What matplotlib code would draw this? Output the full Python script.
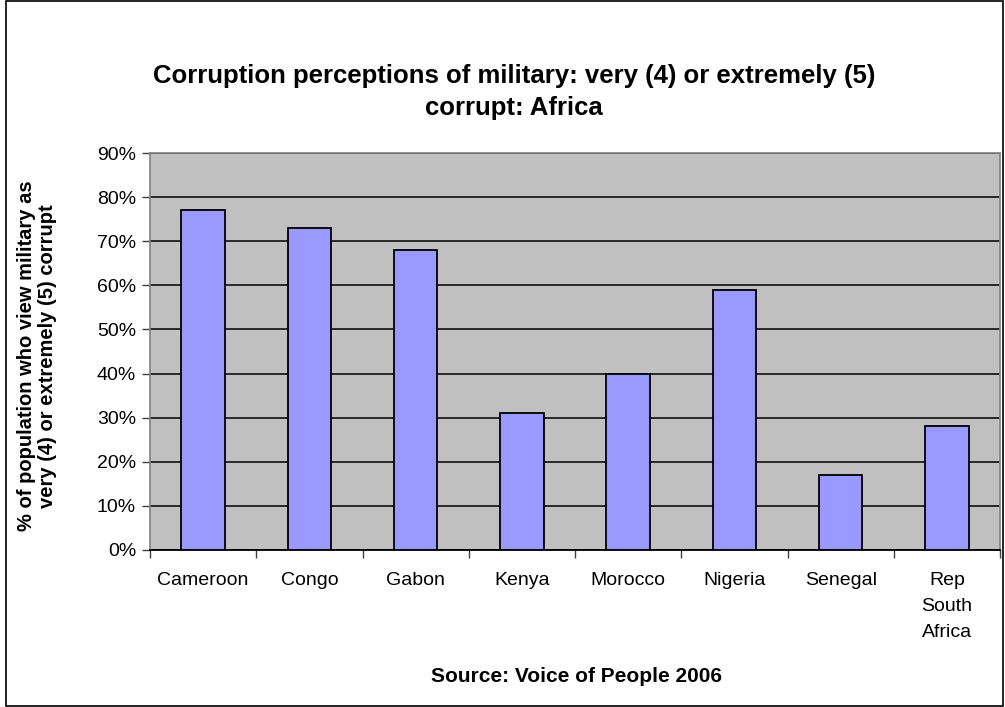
import matplotlib
matplotlib.use("Agg")
import matplotlib.pyplot as plt
from matplotlib.patches import Rectangle
from matplotlib.ticker import MultipleLocator, FuncFormatter

countries = ["Cameroon", "Congo", "Gabon", "Kenya", "Morocco", "Nigeria",
             "Senegal", "Rep\nSouth\nAfrica"]
pct_corrupt = [77, 73, 68, 31, 40, 59, 17, 28]

plt.rcParams["font.family"] = ["Liberation Sans", "DejaVu Sans"]

W, H = 1005, 707
fig = plt.figure(figsize=(W / 100, H / 100), dpi=100)
ax = fig.add_axes([150 / W, 1 - 550 / H, 850 / W, 397 / H])

ax.set_facecolor("#C0C0C0")
x = range(len(countries))
ax.bar(x, pct_corrupt, width=0.41, color="#9999FF", edgecolor="black",
       linewidth=1.3, zorder=3)

ax.set_xlim(-0.5, len(countries) - 0.5)
ax.set_ylim(0, 90)
ax.yaxis.set_major_locator(MultipleLocator(10))
ax.yaxis.set_major_formatter(FuncFormatter(lambda v, p: f"{v:.0f}%"))
ax.grid(axis="y", color="black", linewidth=1.1, zorder=1)
ax.set_axisbelow(True)

ax.set_xticks(x)
ax.set_xticklabels(countries, fontsize=14, linespacing=1.7, va="top")
ax.tick_params(axis="x", length=0, pad=16)
# category boundary ticks
ax.set_xticks([i - 0.5 for i in range(len(countries) + 1)], minor=True)
ax.tick_params(axis="x", which="minor", length=6, color="#404040", width=1)
ax.tick_params(axis="y", length=6, color="#404040", width=1, labelsize=14, pad=4)

for side in ("left", "top", "right"):
    ax.spines[side].set_color("#808080")
    ax.spines[side].set_linewidth(1.2)
ax.spines["bottom"].set_color("black")
ax.spines["bottom"].set_linewidth(1.3)
ax.spines["bottom"].set_zorder(4)

fig.text(37 / W, 1 - 356 / H,
         "% of population who view military as\nvery (4) or extremely (5) corrupt",
         ha="center", va="center", rotation=90, fontsize=14.5,
         fontweight="bold", linespacing=1.1)

fig.text(514 / W, 1 - 92 / H,
         "Corruption perceptions of military: very (4) or extremely (5)\ncorrupt: Africa",
         ha="center", va="center", fontsize=18.5, fontweight="bold", linespacing=1.4)
fig.text(576 / W, 1 - 677 / H, "Source: Voice of People 2006",
         ha="center", va="center", fontsize=15, fontweight="bold")

fig.patches.append(Rectangle((6 / W, 1 / H), 997 / W, 705 / H,
                             transform=fig.transFigure, fill=False,
                             edgecolor="black", linewidth=1.2))

fig.savefig("out.png", dpi=100)
